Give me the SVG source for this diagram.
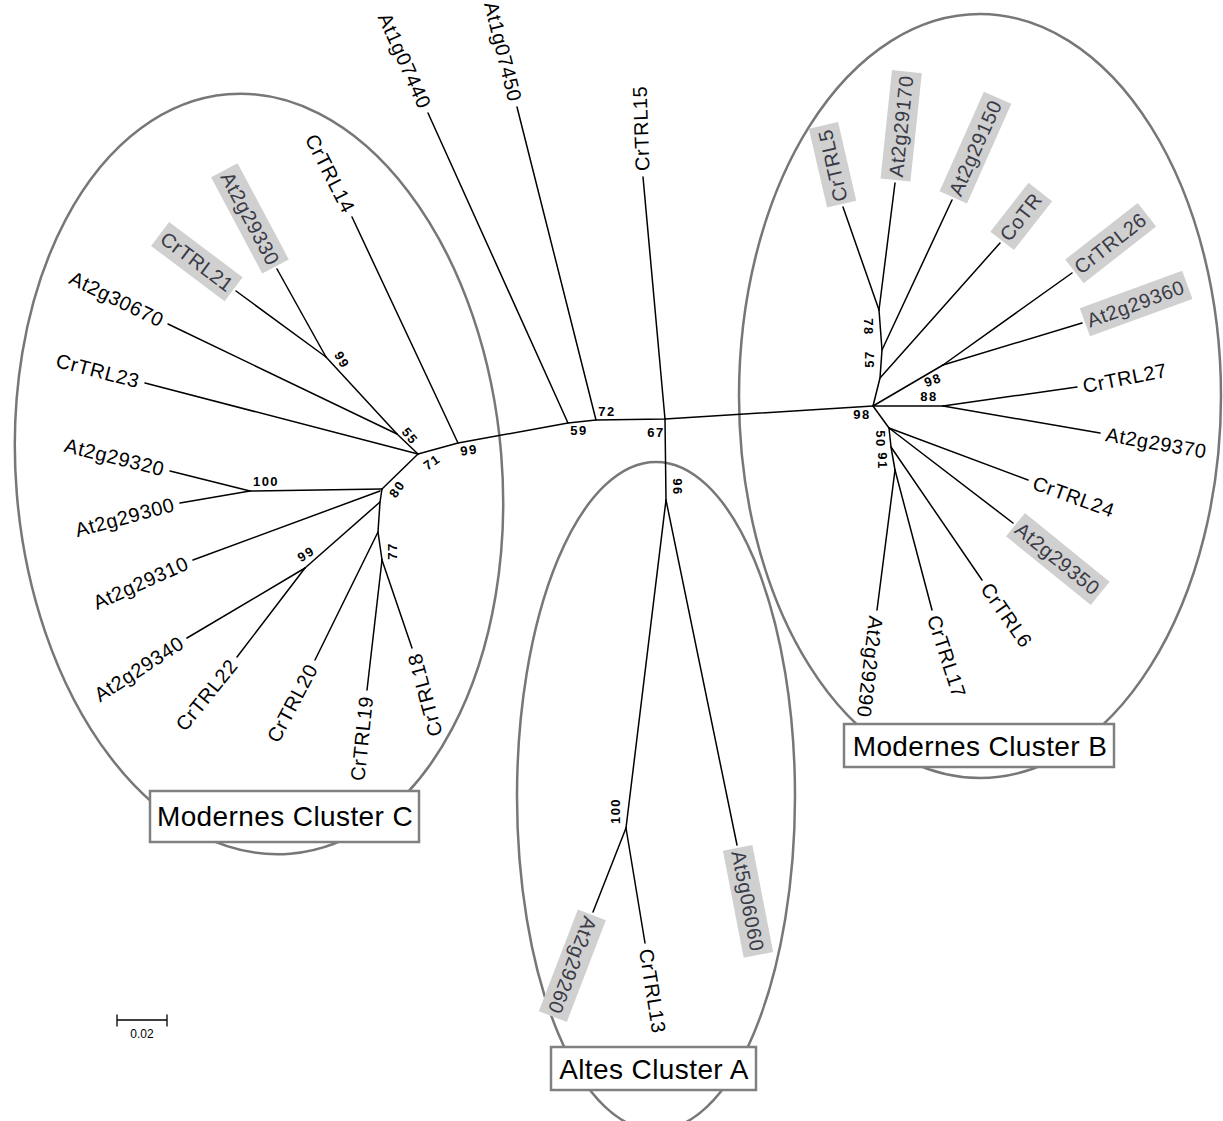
<svg xmlns="http://www.w3.org/2000/svg" width="1223" height="1121" viewBox="0 0 1223 1121">
<style>
.edge{stroke:#000;stroke-width:1.5;fill:none;stroke-linejoin:round;stroke-linecap:round}
.leaf text{font-family:"Liberation Sans",Arial,sans-serif;font-size:20px;letter-spacing:0.6px;fill:#000}
.hl rect{fill:#d0d0d0}
.hl text{fill:#3a3a46}
.bs{font-family:"Liberation Sans",Arial,sans-serif;font-size:13px;font-weight:bold;letter-spacing:1.5px;fill:#000;text-anchor:middle}
.cluster{fill:none;stroke:#777;stroke-width:2.5}
.cbox rect{fill:#fff;stroke:#808080;stroke-width:2.5}
.cbox text{font-family:"Liberation Sans",Arial,sans-serif;font-size:28px;letter-spacing:0.4px;text-anchor:middle;fill:#000}
.e{text-anchor:end}
.s{text-anchor:start}
</style>
<rect width="1223" height="1121" fill="#fff"/>

<g id="clusters">
<ellipse class="cluster" cx="259" cy="474" rx="243" ry="381" transform="rotate(-4.7 259 474)"/>
<ellipse class="cluster" cx="980" cy="396" rx="241" ry="382"/>
<ellipse class="cluster" cx="656" cy="796" rx="139" ry="334"/>
</g>

<g id="connectors">
<path class="edge" d="M418,454 L458,443 L568,423 L596,420 L665,419 L873,406"/>
<path class="edge" d="M458,443 L352,217"/>
<path class="edge" d="M418,454 L397,434"/>
<path class="edge" d="M397,434 L168,324"/>
<path class="edge" d="M397,434 L326,357"/>
<path class="edge" d="M326,357 L236,291"/>
<path class="edge" d="M326,357 L277,269"/>
<path class="edge" d="M418,454 L145,383"/>
<path class="edge" d="M418,454 L382,489"/>
<path class="edge" d="M382,489 L250,491"/>
<path class="edge" d="M250,491 L170,471"/>
<path class="edge" d="M250,491 L180,503"/>
<path class="edge" d="M380,491 L193,560"/>
<path class="edge" d="M382,489 L380,502 L378,532 L382,560"/>
<path class="edge" d="M380,502 L305,568"/>
<path class="edge" d="M305,568 L187,638"/>
<path class="edge" d="M305,568 L237,657"/>
<path class="edge" d="M378,532 L315,660"/>
<path class="edge" d="M382,560 L367,690"/>
<path class="edge" d="M382,560 L412,648"/>
<path class="edge" d="M568,423 L428,113"/>
<path class="edge" d="M596,420 L517,107"/>
<path class="edge" d="M665,419 L643,177"/>
<path class="edge" d="M665,419 L666,500"/>
<path class="edge" d="M666,500 L626,828"/>
<path class="edge" d="M666,500 L737,845"/>
<path class="edge" d="M626,828 L593,912"/>
<path class="edge" d="M626,828 L645,943"/>
<path class="edge" d="M873,406 L943,406"/>
<path class="edge" d="M943,406 L1077,387"/>
<path class="edge" d="M943,406 L1100,433"/>
<path class="edge" d="M873,406 L943,365"/>
<path class="edge" d="M943,365 L1072,273"/>
<path class="edge" d="M943,365 L1082,323"/>
<path class="edge" d="M873,406 L880,378 L882,350 L879,310"/>
<path class="edge" d="M879,310 L843,207"/>
<path class="edge" d="M879,310 L895,183"/>
<path class="edge" d="M882,350 L952,200"/>
<path class="edge" d="M880,378 L1000,243"/>
<path class="edge" d="M873,406 L889,428 L891,447 L895,470"/>
<path class="edge" d="M889,428 L1028,480"/>
<path class="edge" d="M889,428 L1013,523"/>
<path class="edge" d="M891,447 L982,580"/>
<path class="edge" d="M895,470 L932,610"/>
<path class="edge" d="M895,470 L877,610"/>
</g>

<g id="leaves">
<g id="n-At2g29330" class="leaf hl" transform="translate(274.1,263.8) rotate(62)"><rect x="-106" y="-15" width="109" height="30"/><text class="e" y="7">At2g29330</text></g>
<g id="n-CrTRL21" class="leaf hl" transform="translate(231.2,287.5) rotate(37)"><rect x="-89" y="-15" width="92" height="30"/><text class="e" y="7">CrTRL21</text></g>
<g id="n-At2g30670" class="leaf" transform="translate(162.6,321.4) rotate(26)"><text class="e" y="7">At2g30670</text></g>
<g id="n-CrTRL23" class="leaf" transform="translate(139.2,381.5) rotate(14.6)"><text class="e" y="7">CrTRL23</text></g>
<g id="n-At2g29320" class="leaf" transform="translate(164.2,469.5) rotate(14)"><text class="e" y="7">At2g29320</text></g>
<g id="n-At2g29300" class="leaf" transform="translate(174.1,504) rotate(-15)"><text class="e" y="7">At2g29300</text></g>
<g id="n-At2g29310" class="leaf" transform="translate(187.4,562.1) rotate(-24)"><text class="e" y="7">At2g29310</text></g>
<g id="n-At2g29340" class="leaf" transform="translate(181.8,641.1) rotate(-33)"><text class="e" y="7">At2g29340</text></g>
<g id="n-CrTRL22" class="leaf" transform="translate(233.4,661.8) rotate(-51)"><text class="e" y="7">CrTRL22</text></g>
<g id="n-CrTRL20" class="leaf" transform="translate(312.4,665.4) rotate(-62)"><text class="e" y="7">CrTRL20</text></g>
<g id="n-CrTRL19" class="leaf" transform="translate(366.3,696) rotate(-84)"><text class="e" y="7">CrTRL19</text></g>
<g id="n-CrTRL18" class="leaf" transform="translate(413.9,653.7) rotate(-105)"><text class="e" y="7">CrTRL18</text></g>
<g id="n-CrTRL14" class="leaf" transform="translate(349.5,211.6) rotate(63)"><text class="e" y="7">CrTRL14</text></g>
<g id="n-At1g07440" class="leaf" transform="translate(425.5,107.5) rotate(66)"><text class="e" y="7">At1g07440</text></g>
<g id="n-At1g07450" class="leaf" transform="translate(515.5,101.2) rotate(76)"><text class="e" y="7">At1g07450</text></g>
<g id="n-CrTRL15" class="leaf" transform="translate(642.5,171) rotate(-92)"><text class="s" y="7">CrTRL15</text></g>
<g id="n-CrTRL5" class="leaf hl" transform="translate(841,201.3) rotate(-103)"><rect x="-3" y="-15" width="81" height="30"/><text class="s" y="7">CrTRL5</text></g>
<g id="n-At2g29170" class="leaf hl" transform="translate(895.8,177) rotate(-84)"><rect x="-3" y="-15" width="109" height="30"/><text class="s" y="7">At2g29170</text></g>
<g id="n-At2g29150" class="leaf hl" transform="translate(954.5,194.6) rotate(-66)"><rect x="-3" y="-15" width="109" height="30"/><text class="s" y="7">At2g29150</text></g>
<g id="n-CoTR" class="leaf hl" transform="translate(1004,238.5) rotate(-52)"><rect x="-3" y="-15" width="62" height="30"/><text class="s" y="7">CoTR</text></g>
<g id="n-CrTRL26" class="leaf hl" transform="translate(1076.8,269.5) rotate(-38)"><rect x="-3" y="-15" width="92" height="30"/><text class="s" y="7">CrTRL26</text></g>
<g id="n-At2g29360" class="leaf hl" transform="translate(1087.7,321.2) rotate(-20)"><rect x="-3" y="-15" width="109" height="30"/><text class="s" y="7">At2g29360</text></g>
<g id="n-CrTRL27" class="leaf" transform="translate(1083,386.2) rotate(-11)"><text class="s" y="7">CrTRL27</text></g>
<g id="n-At2g29370" class="leaf" transform="translate(1106,434) rotate(10)"><text class="s" y="7">At2g29370</text></g>
<g id="n-CrTRL24" class="leaf" transform="translate(1033.6,482.1) rotate(20)"><text class="s" y="7">CrTRL24</text></g>
<g id="n-At2g29350" class="leaf hl" transform="translate(1017.8,526.6) rotate(39)"><rect x="-3" y="-15" width="109" height="30"/><text class="s" y="7">At2g29350</text></g>
<g id="n-CrTRL6" class="leaf" transform="translate(985.4,585) rotate(55)"><text class="s" y="7">CrTRL6</text></g>
<g id="n-CrTRL17" class="leaf" transform="translate(933.5,615.8) rotate(72)"><text class="s" y="7">CrTRL17</text></g>
<g id="n-At2g29290" class="leaf" transform="translate(876.2,616) rotate(97)"><text class="s" y="7">At2g29290</text></g>
<g id="n-At5g06060" class="leaf hl" transform="translate(738.2,850.9) rotate(79)"><rect x="-3" y="-15" width="109" height="30"/><text class="s" y="7">At5g06060</text></g>
<g id="n-At2g29260" class="leaf hl" transform="translate(590.8,917.6) rotate(111)"><rect x="-3" y="-15" width="109" height="30"/><text class="s" y="7">At2g29260</text></g>
<g id="n-CrTRL13" class="leaf" transform="translate(646,948.9) rotate(81)"><text class="s" y="7">CrTRL13</text></g>
</g>

<g id="bootstrap">
<text class="bs" transform="translate(342,360) rotate(60)" dy="0.35em">99</text>
<text class="bs" transform="translate(410,436) rotate(50)" dy="0.35em">55</text>
<text class="bs" transform="translate(469,450) rotate(-8)" dy="0.35em">99</text>
<text class="bs" transform="translate(432,462) rotate(-35)" dy="0.35em">71</text>
<text class="bs" transform="translate(397,489) rotate(-55)" dy="0.35em">80</text>
<text class="bs" transform="translate(266,481)" dy="0.35em">100</text>
<text class="bs" transform="translate(306,554) rotate(-32)" dy="0.35em">99</text>
<text class="bs" transform="translate(392,551) rotate(-90)" dy="0.35em">77</text>
<text class="bs" transform="translate(579,430)" dy="0.35em">59</text>
<text class="bs" transform="translate(607,411)" dy="0.35em">72</text>
<text class="bs" transform="translate(656,432)" dy="0.35em">67</text>
<text class="bs" transform="translate(678,487) rotate(90)" dy="0.35em">96</text>
<text class="bs" transform="translate(615,811) rotate(-90)" dy="0.35em">100</text>
<text class="bs" transform="translate(869,327) rotate(90)" dy="0.35em">78</text>
<text class="bs" transform="translate(869,359) rotate(-90)" dy="0.35em">57</text>
<text class="bs" transform="translate(933,380) rotate(-20)" dy="0.35em">98</text>
<text class="bs" transform="translate(929,396)" dy="0.35em">88</text>
<text class="bs" transform="translate(862,414)" dy="0.35em">98</text>
<text class="bs" transform="translate(881,439) rotate(90)" dy="0.35em">50</text>
<text class="bs" transform="translate(883,461) rotate(90)" dy="0.35em">91</text>
</g>

<g id="label-C" class="cbox"><rect x="150" y="791" width="269" height="51"/><text x="285" y="826">Modernes Cluster C</text></g>
<g id="label-B" class="cbox"><rect x="844" y="724" width="270" height="43"/><text x="980" y="756">Modernes Cluster B</text></g>
<g id="label-A" class="cbox"><rect x="551" y="1047" width="205" height="43"/><text x="654" y="1079">Altes Cluster A</text></g>

<g id="scale">
<path class="edge" d="M117,1020 L167,1020 M117,1015 L117,1026 M167,1015 L167,1026" style="stroke-width:1.3"/>
<text x="142" y="1038" style="font-family:'Liberation Sans',Arial,sans-serif;font-size:12px;text-anchor:middle">0.02</text>
</g>
</svg>
